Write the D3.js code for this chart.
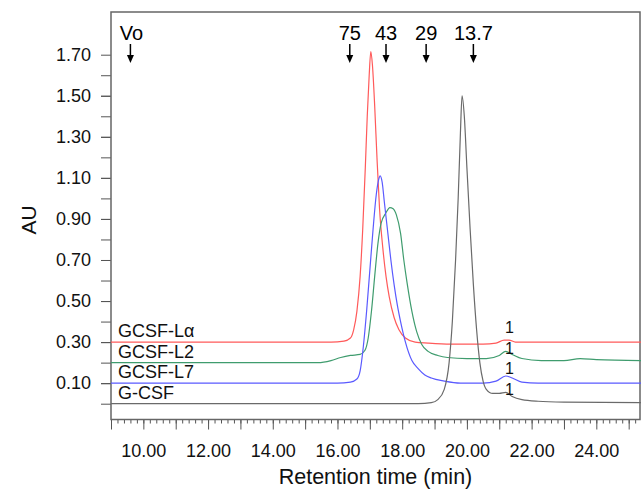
<!DOCTYPE html>
<html>
<head>
<meta charset="utf-8">
<script src="https://cdn.jsdelivr.net/npm/d3@7/dist/d3.min.js"></script>
<style>
  body { margin: 0; background: #fff; }
  svg { font-family: 'Liberation Sans', Arial, sans-serif; }
</style>
</head>
<body>
<svg id="chart" width="641" height="490"></svg>
<script>
// traces, [retention time (min), AU]
const traceLa = [
  [9.0, 0.30], [15.8, 0.30], [16.2, 0.305], [16.4, 0.32], [16.5, 0.36], [16.6, 0.45],
  [16.7, 0.62], [16.78, 0.85], [16.86, 1.15], [16.92, 1.40], [16.98, 1.60], [17.03, 1.715],
  [17.08, 1.65], [17.15, 1.45], [17.22, 1.20], [17.30, 0.95], [17.40, 0.76], [17.50, 0.62],
  [17.60, 0.52], [17.75, 0.42], [17.90, 0.36], [18.1, 0.32], [18.4, 0.30], [18.8, 0.295],
  [19.5, 0.29], [20.5, 0.29], [20.9, 0.295], [21.15, 0.31], [21.3, 0.31], [21.5, 0.30],
  [22.0, 0.30], [25.4, 0.30]
]
const traceL2 = [
  [9.0, 0.20], [15.4, 0.20], [15.8, 0.21], [16.1, 0.225], [16.4, 0.235], [16.7, 0.24],
  [16.85, 0.26], [16.95, 0.32], [17.05, 0.45], [17.15, 0.62], [17.25, 0.78], [17.35, 0.88],
  [17.5, 0.93], [17.62, 0.955], [17.72, 0.95], [17.82, 0.92], [17.95, 0.83], [18.05, 0.70],
  [18.15, 0.59], [18.3, 0.45], [18.45, 0.35], [18.6, 0.29], [18.8, 0.255], [19.1, 0.235],
  [19.4, 0.225], [20.0, 0.22], [20.6, 0.22], [21.0, 0.235], [21.2, 0.255], [21.4, 0.24],
  [21.7, 0.22], [22.3, 0.21], [23.0, 0.21], [23.5, 0.22], [24.0, 0.215], [25.4, 0.21]
]
const traceL7 = [
  [9.0, 0.10], [16.0, 0.10], [16.4, 0.105], [16.6, 0.12], [16.7, 0.16], [16.8, 0.28],
  [16.9, 0.45], [17.0, 0.65], [17.1, 0.85], [17.2, 1.02], [17.27, 1.09], [17.32, 1.11],
  [17.38, 1.08], [17.45, 0.98], [17.55, 0.84], [17.65, 0.70], [17.75, 0.58], [17.85, 0.48],
  [17.95, 0.40], [18.1, 0.30], [18.3, 0.21], [18.5, 0.17], [18.7, 0.14], [18.9, 0.125],
  [19.3, 0.11], [19.8, 0.10], [20.5, 0.10], [20.9, 0.11], [21.2, 0.135], [21.4, 0.125],
  [21.7, 0.105], [22.2, 0.10], [25.4, 0.10]
]
const traceGcsf = [
  [9.0, 0.0], [18.5, 0.0], [18.9, 0.005], [19.1, 0.02], [19.3, 0.07], [19.45, 0.20],
  [19.55, 0.40], [19.65, 0.70], [19.73, 1.00], [19.8, 1.32], [19.85, 1.50], [19.92, 1.40],
  [20.0, 1.15], [20.1, 0.85], [20.2, 0.58], [20.3, 0.36], [20.4, 0.20], [20.5, 0.11],
  [20.6, 0.07], [20.8, 0.05], [21.0, 0.05], [21.2, 0.055], [21.4, 0.035], [21.7, 0.02],
  [22.2, 0.012], [23.0, 0.008], [25.4, 0.005]
]

const seriesNames = ['GCSF-Lα', 'GCSF-L2', 'GCSF-L7', 'G-CSF']
const seriesColours = ['#ff5a5a', '#3f9c6e', '#5a5aff', '#6a6a6a']
const seriesTraces = [traceLa, traceL2, traceL7, traceGcsf]

// small peak labelled "1" on every trace
const bumpTime = 21.22

// size markers above the plot
const markerLabels = ['Vo', '75', '43', '29', '13.7']
const markerTimes = [9.6, 16.38, 17.5, 18.74, 20.2]

const yLabelTicks = [0.10, 0.30, 0.50, 0.70, 0.90, 1.10, 1.30, 1.50, 1.70]
const xLabelTicks = [10, 12, 14, 16, 18, 20, 22, 24]

const plotLeft = 111
const plotRight = 640
const plotTop = 12
const plotBottom = 419.5

const x = d3.scaleLinear().domain([9.0, 25.35]).range([plotLeft, plotRight])
const y = d3.scaleLinear().domain([-0.077, 1.908]).range([plotBottom, plotTop])

const svg = d3.select('svg#chart')

// y axis: a tick every 0.1, labels on the odd tenths
const yMinor = d3.range(0, 17).map(i => i / 10)
svg.append('g')
  .attr('transform', `translate(${plotLeft},0)`)
  .call(d3.axisLeft(y).tickValues(yMinor).tickSize(10).tickFormat(''))
  .call(g => g.select('.domain').remove())
  .call(g => g.selectAll('line').attr('stroke', '#555'))
svg.append('g')
  .attr('transform', `translate(${plotLeft},0)`)
  .call(d3.axisLeft(y).tickValues(yLabelTicks).tickSize(10).tickPadding(10).tickFormat(d3.format('.2f')))
  .call(g => g.select('.domain').remove())
  .call(g => g.selectAll('line').attr('stroke', '#555'))
  .call(g => g.selectAll('text').attr('font-size', 18).attr('fill', '#111').style('font-family', 'Liberation Sans, Arial, sans-serif'))

// x axis: minor ticks every 0.2 min, long ticks every minute
const xMinor = d3.range(46, 127).map(i => i / 5)
const xMajor = d3.range(9, 26)
svg.append('g')
  .attr('transform', `translate(0,${plotBottom})`)
  .call(d3.axisBottom(x).tickValues(xMinor).tickSize(4).tickFormat(''))
  .call(g => g.select('.domain').remove())
  .call(g => g.selectAll('line').attr('stroke', '#555'))
svg.append('g')
  .attr('transform', `translate(0,${plotBottom})`)
  .call(d3.axisBottom(x).tickValues(xMajor).tickSize(10).tickFormat(''))
  .call(g => g.select('.domain').remove())
  .call(g => g.selectAll('line').attr('stroke', '#555'))
svg.append('g')
  .attr('transform', `translate(0,${plotBottom})`)
  .call(d3.axisBottom(x).tickValues(xLabelTicks).tickSize(0).tickPadding(25).tickFormat(d3.format('.2f')))
  .call(g => g.select('.domain').remove())
  .call(g => g.selectAll('text').attr('font-size', 18).attr('fill', '#111').style('font-family', 'Liberation Sans, Arial, sans-serif'))

// frame
svg.append('rect')
  .attr('x', plotLeft)
  .attr('y', plotTop)
  .attr('width', plotRight - plotLeft)
  .attr('height', plotBottom - plotTop)
  .attr('fill', 'none')
  .attr('stroke', '#666')
  .attr('stroke-width', 1.5)

// traces
const line = d3.line()
  .x(d => x(d[0]))
  .y(d => y(d[1]))
  .curve(d3.curveMonotoneX)

svg.append('g')
  .selectAll('path')
  .data(seriesTraces)
  .join('path')
  .attr('d', line)
  .attr('fill', 'none')
  .attr('stroke', (d, i) => seriesColours[i])
  .attr('stroke-width', 1.2)

// trace names, sitting just above each baseline
svg.append('g')
  .selectAll('text')
  .data(seriesTraces)
  .join('text')
  .attr('x', plotLeft + 7)
  .attr('y', d => y(d[0][1]) - 5)
  .attr('font-size', 18)
  .attr('fill', '#111')
  .text((d, i) => seriesNames[i])

// "1" over the small late peak, hung off each baseline so they stack evenly
svg.append('g')
  .selectAll('text')
  .data(seriesTraces)
  .join('text')
  .attr('x', x(bumpTime) + 3)
  .attr('y', d => y(d[0][1]) - 9)
  .attr('text-anchor', 'middle')
  .attr('font-size', 16)
  .attr('fill', '#111')
  .text('1')

// size-standard arrows
const markers = svg.append('g')
  .selectAll('g')
  .data(markerTimes)
  .join('g')
  .attr('transform', d => `translate(${x(d)},0)`)

markers.append('text')
  .attr('x', (d, i) => i === 0 ? 1 : 0)
  .attr('y', 40)
  .attr('text-anchor', 'middle')
  .attr('font-size', 20)
  .attr('fill', '#000')
  .text((d, i) => markerLabels[i])

markers.append('line')
  .attr('y1', 44)
  .attr('y2', 58)
  .attr('stroke', '#000')
  .attr('stroke-width', 1.5)

markers.append('path')
  .attr('d', 'M-3.5,55L3.5,55L0,63Z')
  .attr('fill', '#000')

// axis titles
svg.append('text')
  .attr('x', (plotLeft + plotRight) / 2)
  .attr('y', 484)
  .attr('text-anchor', 'middle')
  .attr('font-size', 21.5)
  .attr('fill', '#111')
  .text('Retention time (min)')

svg.append('text')
  .attr('transform', 'translate(36,220) rotate(-90)')
  .attr('text-anchor', 'middle')
  .attr('font-size', 21)
  .attr('fill', '#111')
  .text('AU')
</script>
</body>
</html>
